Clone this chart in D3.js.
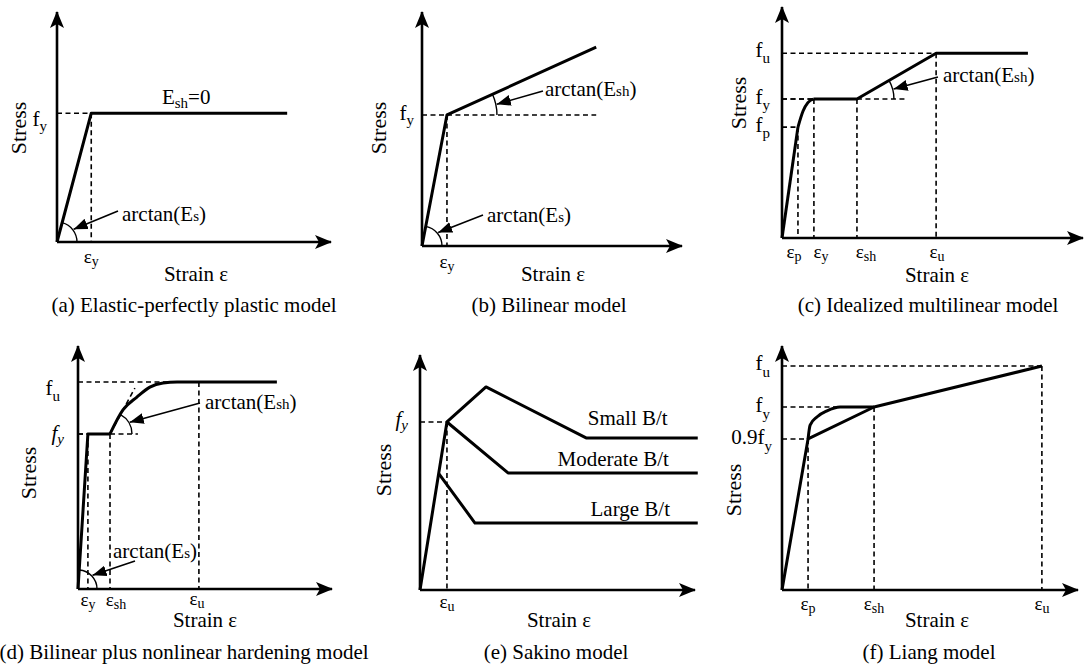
<!DOCTYPE html>
<html>
<head>
<meta charset="utf-8">
<script src="https://cdn.jsdelivr.net/npm/d3@7"></script>
<style>
  body { margin: 0; background: #fff; }
  text { font-family: "Liberation Serif", "Times New Roman", serif; fill: #000; }
</style>
</head>
<body>
<svg id="fig" width="1085" height="665"></svg>
<script>

// (a) elastic-perfectly plastic
var strainA = [0, 12.5, 84];
var stressA = [0, 56, 56];

// (b) bilinear
var strainB = [0, 9.6, 67];
var stressB = [0, 56, 85];

// (c) idealized multilinear
var strainC = [0, 5.3, 7.0, 8.6, 10.6, 24.9, 51.2, 81.7];
var stressC = [0, 48, 55, 58.6, 60.2, 60.2, 80, 80];

// (d) bilinear plus nonlinear hardening
var strainD = [0, 3.9, 12.6, 17.7, 23.2, 28.3, 33.5, 39, 78.3];
var stressD = [0, 63.8, 63.8, 73.7, 79, 83.1, 84.8, 85.2, 85.2];
var strainUltD = 47.6;

// (e) Sakino
var sakinoNames = ['Small B/t', 'Moderate B/t', 'Large B/t'];
var strainSmall = [0, 9.8, 24, 60.4, 101];
var stressSmall = [0, 71.5, 86.4, 64.7, 64.7];
var strainModerate = [9.8, 32, 101];
var stressModerate = [71.5, 49.8, 49.8];
var strainLarge = [6.9, 20, 101];
var stressLarge = [49.4, 28.5, 28.5];

// (f) Liang
var strainF = [0, 8.8, 31.1, 87.8];
var stressF = [0, 61.9, 75, 91.8];
var strainFround = [8.8, 9.5, 11.8, 15.2, 19.6, 31.1];
var stressFround = [61.9, 67.6, 70.9, 73.4, 75, 75];

var captions = ['(a) Elastic-perfectly plastic model', '(b) Bilinear model',
  '(c) Idealized multilinear model', '(d) Bilinear plus nonlinear hardening model',
  '(e) Sakino model', '(f) Liang model'];

var zip = function(xs, ys) { return xs.map(function(v, i) { return [v, ys[i]]; }); };

var svg = d3.select('#fig');
var defs = svg.append('defs');
defs.append('marker').attr('id', 'axhead')
    .attr('viewBox', '-17 -8 19 16').attr('refX', 0).attr('refY', 0)
    .attr('markerWidth', 19).attr('markerHeight', 16).attr('markerUnits', 'userSpaceOnUse')
    .attr('orient', 'auto')
  .append('path').attr('d', 'M1,0 L-16,-7 L-12,0 L-16,7 Z').attr('fill', '#000');
defs.append('marker').attr('id', 'tip')
    .attr('viewBox', '-14 -6 15 12').attr('refX', 0).attr('refY', 0)
    .attr('markerWidth', 15).attr('markerHeight', 12).attr('markerUnits', 'userSpaceOnUse')
    .attr('orient', 'auto')
  .append('path').attr('d', 'M0,0 L-14,-5.5 L-14,5.5 Z').attr('fill', '#000');

function panel(box) {
  var x = d3.scaleLinear().domain([0, 100]).range([box.ox, box.xEnd]);
  var y = d3.scaleLinear().domain([0, 100]).range([box.oy, box.yTop]);
  var g = svg.append('g');
  var p = { g: g, x: x, y: y };
  var line = d3.line().x(function(d) { return x(d[0]); }).y(function(d) { return y(d[1]); });
  p.line = line;
  // axes
  g.append('path').attr('d', line([[0, 0], [100, 0]]))
    .attr('stroke', '#000').attr('stroke-width', 2.6).attr('fill', 'none').attr('marker-end', 'url(#axhead)');
  g.append('path').attr('d', line([[0, 0], [0, 100]]))
    .attr('stroke', '#000').attr('stroke-width', 2.6).attr('fill', 'none').attr('marker-end', 'url(#axhead)');
  g.append('text').attr('x', box.sx).attr('y', box.sy)
    .attr('transform', 'rotate(-90,' + box.sx + ',' + box.sy + ')')
    .attr('text-anchor', 'middle').attr('dominant-baseline', 'central')
    .style('font-size', '22px').text('Stress');
  g.append('text').attr('x', box.ex).attr('y', box.ey)
    .attr('text-anchor', 'middle').style('font-size', '21px').text('Strain ε');
  g.append('text').attr('x', box.cx).attr('y', box.cy)
    .attr('text-anchor', 'middle').style('font-size', '21px').text(box.caption);
  return p;
}

function curve(p, pts, kind) {
  p.g.append('path').attr('d', p.line.curve(kind || d3.curveLinear)(pts))
    .attr('stroke', '#000').attr('stroke-width', 3).attr('fill', 'none')
    .attr('stroke-linejoin', 'round');
  p.line.curve(d3.curveLinear);
}

function dashed(p, pts) {
  p.g.append('path').attr('d', p.line(pts))
    .attr('stroke', '#000').attr('stroke-width', 1.6).attr('fill', 'none')
    .attr('stroke-dasharray', '5,3.5');
}

// guides: dashed lines from both axes to a point
function guide(p, pt) {
  dashed(p, [[0, pt[1]], pt]);
  dashed(p, [pt, [pt[0], 0]]);
}

function sub(g, x, y, main, s, o) {
  o = o || {};
  var sh = o.shift == null ? 5 : o.shift;
  var t = g.append('text').attr('x', x).attr('y', y)
    .attr('text-anchor', o.anchor || 'start')
    .style('font-size', (o.size || 21) + 'px')
    .style('font-style', o.italic ? 'italic' : 'normal');
  t.append('tspan').text(main);
  t.append('tspan').attr('dy', sh)
    .style('font-size', (o.subSize || 14) + 'px').text(s);
  if (o.after) t.append('tspan').attr('dy', -sh).text(o.after);
  return t;
}

function xlab(p, v, main, s, dy, dx) {
  sub(p.g, p.x(v) + (dx || 0), p.y(0) + (dy || 21), main, s,
    { anchor: 'middle', size: 19, subSize: 14, shift: 3 });
}
function ylab(p, v, main, s, o) {
  o = o || {};
  sub(p.g, p.x(0) - (o.gap || 6), p.y(v) + (o.dy || 13), main, s,
    { anchor: 'end', size: 21, subSize: 15, shift: o.shift || 5, italic: o.italic });
}

// angle mark at a corner point: arc from horizontal to the rising segment, with pointer
function angle(p, c, to, r, tail, text, s, textOff) {
  var cx = p.x(c[0]), cy = p.y(c[1]);
  var a = Math.atan2(p.y(to[1]) - cy, p.x(to[0]) - cx);
  var path = d3.path();
  path.arc(cx, cy, r, a, 0);
  p.g.append('path').attr('d', path.toString()).attr('stroke', '#000')
    .attr('stroke-width', 1.4).attr('fill', 'none');
  var mid = a / 2;
  var tx = cx + (r + 1) * Math.cos(mid), ty = cy + (r + 1) * Math.sin(mid);
  p.g.append('line').attr('x1', cx + tail[0]).attr('y1', cy + tail[1])
    .attr('x2', tx).attr('y2', ty).attr('stroke', '#000').attr('stroke-width', 1.6)
    .attr('marker-end', 'url(#tip)');
  sub(p.g, cx + textOff[0], cy + textOff[1], text, s,
    { size: 21, subSize: 15, shift: 0, after: ')' });
}

// ---------- (a)
var pa = panel({ ox: 57, oy: 242, xEnd: 331, yTop: 12, sx: 18, sy: 128, ex: 196, ey: 281,
  cx: 194, cy: 312, caption: captions[0] });
var ptsA = zip(strainA, stressA);
guide(pa, ptsA[1]);
curve(pa, ptsA);
ylab(pa, stressA[1], 'f', 'y', { dy: 13, gap: 10 });
xlab(pa, strainA[1], 'ε', 'y');
angle(pa, ptsA[0], ptsA[1], 20, [61, -31], 'arctan(E', 's', [65, -21]);
sub(pa.g, (pa.x(strainA[1]) + pa.x(strainA[2])) / 2 - 3, pa.y(stressA[1]) - 9, 'E', 'sh',
  { anchor: 'middle', size: 21, subSize: 15, shift: 4, after: '=0' });

// ---------- (b)
var pb = panel({ ox: 422, oy: 246, xEnd: 682, yTop: 12, sx: 378, sy: 128, ex: 553, ey: 281,
  cx: 549, cy: 312, caption: captions[1] });
var ptsB = zip(strainB, stressB);
guide(pb, ptsB[1]);
dashed(pb, [ptsB[1], [strainB[2], stressB[1]]]);
curve(pb, ptsB);
ylab(pb, stressB[1], 'f', 'y', { dy: 5, gap: 8 });
xlab(pb, strainB[1], 'ε', 'y', 22);
angle(pb, ptsB[0], ptsB[1], 20, [61, -31], 'arctan(E', 's', [65, -24]);
angle(pb, ptsB[1], ptsB[2], 50, [96, -24], 'arctan(E', 'sh', [98, -19]);

// ---------- (c)
var pc = panel({ ox: 782, oy: 238, xEnd: 1083, yTop: 7, sx: 738, sy: 103, ex: 937, ey: 282,
  cx: 928, cy: 312, caption: captions[2] });
var ptsC = zip(strainC, stressC);
guide(pc, ptsC[1]);
guide(pc, ptsC[4]);
guide(pc, ptsC[5]);
guide(pc, ptsC[6]);
dashed(pc, [ptsC[5], [40.9, stressC[5]]]);
curve(pc, ptsC.slice(0, 2));
curve(pc, ptsC.slice(1, 5), d3.curveMonotoneX);
curve(pc, ptsC.slice(4));
ylab(pc, stressC[6], 'f', 'u', { dy: 4, gap: 12, shift: 6 });
ylab(pc, stressC[4], 'f', 'y', { dy: 5, gap: 12, shift: 6 });
ylab(pc, stressC[1], 'f', 'p', { dy: 5, gap: 12, shift: 6 });
xlab(pc, strainC[1], 'ε', 'p', 20, -4);
xlab(pc, strainC[4], 'ε', 'y', 20, 7);
xlab(pc, strainC[5], 'ε', 'sh', 20, 9);
xlab(pc, strainC[6], 'ε', 'u', 20, 1);
angle(pc, ptsC[5], ptsC[6], 37, [81, -22], 'arctan(E', 'sh', [86, -17]);

// ---------- (d)
var pd = panel({ ox: 78, oy: 589, xEnd: 332, yTop: 346, sx: 28, sy: 473, ex: 205, ey: 627,
  cx: 184, cy: 659, caption: captions[3] });
var ptsD = zip(strainD, stressD);
guide(pd, ptsD[1]);
guide(pd, ptsD[2]);
guide(pd, [strainUltD, stressD[7]]);
dashed(pd, [ptsD[2], [23.6, stressD[2]]]);
dashed(pd, [ptsD[2], [22.4, 82.7]]);
curve(pd, ptsD.slice(0, 3));
curve(pd, ptsD.slice(2), d3.curveMonotoneX);
ylab(pd, stressD[7], 'f', 'u', { dy: 0, gap: 18, shift: 6 });
ylab(pd, stressD[1], 'f', 'y', { dy: 6, gap: 14, shift: 4, italic: true });
xlab(pd, strainD[1], 'ε', 'y', 17);
xlab(pd, strainD[2], 'ε', 'sh', 17, 6);
xlab(pd, strainUltD, 'ε', 'u', 16, -2);
angle(pd, ptsD[2], [22.4, 82.7], 22, [90, -31], 'arctan(E', 'sh', [95, -25]);
angle(pd, ptsD[0], ptsD[1], 19, [57, -28], 'arctan(E', 's', [35, -31]);

// ---------- (e)
var pe = panel({ ox: 420, oy: 590, xEnd: 695, yTop: 355, sx: 383, sy: 470, ex: 559, ey: 627,
  cx: 556, cy: 659, caption: captions[4] });
var sak = [zip(strainSmall, stressSmall), zip(strainModerate, stressModerate), zip(strainLarge, stressLarge)];
guide(pe, sak[0][1]);
sak.forEach(function(s) { curve(pe, s); });
var sakLabel = [[61, 13], [50, 7], [62, 7]];
sak.forEach(function(s, i) {
  pe.g.append('text').attr('x', pe.x(sakLabel[i][0]))
    .attr('y', pe.y(s[s.length - 1][1]) - sakLabel[i][1])
    .style('font-size', '21px').text(sakinoNames[i]);
});
ylab(pe, stressSmall[1], 'f', 'y', { dy: 4, gap: 12, shift: 4, italic: true });
xlab(pe, strainSmall[1], 'ε', 'u', 18);

// ---------- (f)
var pf = panel({ ox: 782, oy: 590, xEnd: 1078, yTop: 346, sx: 733, sy: 490, ex: 937, ey: 627,
  cx: 929, cy: 659, caption: captions[5] });
var ptsF = zip(strainF, stressF);
guide(pf, ptsF[1]);
guide(pf, ptsF[2]);
guide(pf, ptsF[3]);
curve(pf, ptsF);
curve(pf, zip(strainFround, stressFround), d3.curveMonotoneX);
ylab(pf, stressF[3], 'f', 'u', { dy: 4, gap: 12, shift: 7 });
ylab(pf, stressF[2], 'f', 'y', { dy: 5, gap: 12, shift: 7 });
ylab(pf, stressF[1], '0.9f', 'y', { dy: 5, gap: 10, shift: 7 });
xlab(pf, strainF[1], 'ε', 'p', 20);
xlab(pf, strainF[2], 'ε', 'sh', 20);
xlab(pf, strainF[3], 'ε', 'u', 20);
</script>
</body>
</html>
